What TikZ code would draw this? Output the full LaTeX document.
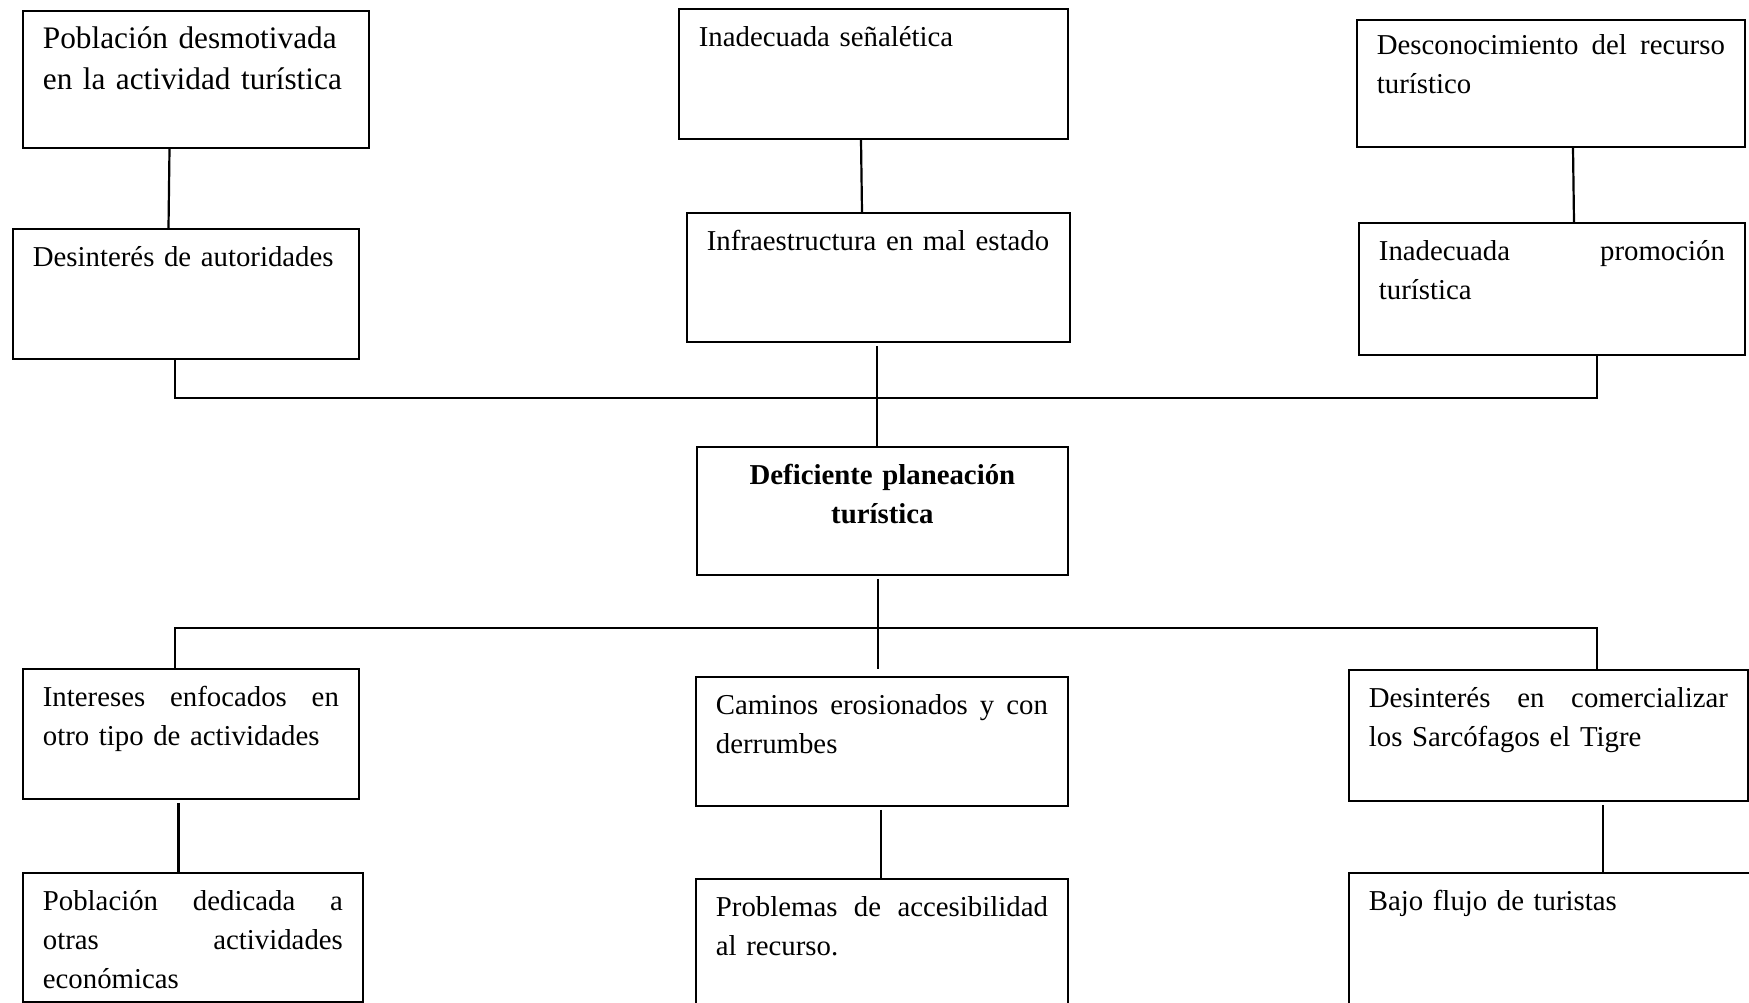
\documentclass[tikz,border=0pt]{standalone}
\usepackage{fontspec}
\setmainfont{Liberation Serif}
\usepackage{tikz}

\tikzset{
  caja/.style={draw, line width=1.8pt, anchor=north west, inner xsep=20pt, inner ysep=0pt,
    text height=38pt, font=\fontsize{28.8}{39}\selectfont},
  linea/.style={line width=2.2pt}
}

\begin{document}
\begin{tikzpicture}[x=1pt, y=-1pt]
\path[use as bounding box, clip] (0,0) rectangle (1749,1003);
% causas
\node[caja, text width=306pt, text depth=99pt, font=\fontsize{31.3}{41}\selectfont] (pobl) at (22,10) {Población desmotivada\\en la actividad turística};
\node[caja, text width=306pt, text depth=92pt] (desint) at (12,228) {Desinterés de autoridades};
\node[caja, text width=349pt, text depth=92pt] (senal) at (678,8) {Inadecuada señalética};
\node[caja, text width=343pt, text depth=91pt] (infra) at (686,212) {\mbox{Infraestructura en mal estado}};
\node[caja, text width=348pt, text height=35pt, text depth=92pt] (descon) at (1356,19) {Desconocimiento\hfill del\hfill recurso\\turístico};
\node[caja, text width=346pt, text depth=94pt] (promo) at (1358,222) {Inadecuada\hfill promoción\\turística};
% problema
\node[caja, text width=331pt, text depth=90pt, align=center, font=\fontsize{28.8}{39}\selectfont\bfseries] (defic) at (696,446) {Deficiente planeación\\turística};
% efectos
\node[caja, text width=296pt, text depth=92pt] (inter) at (22,668) {Intereses\hfill enfocados\hfill en\\otro tipo de actividades};
\node[caja, text width=332pt, text depth=91pt] (camin) at (695,676) {Caminos\hfill erosionados\hfill y\hfill con\\derrumbes};
\node[caja, text width=359pt, text depth=93pt] (comer) at (1348,669) {Desinterés\hfill en\hfill comercializar\\los Sarcófagos el Tigre};
\node[caja, text width=300pt, text depth=91pt] (dedic) at (22,872) {Población\hfill dedicada\hfill a\\otras\hfill actividades\\económicas};
\node[caja, text width=332pt, text depth=112pt] (acces) at (695,878) {Problemas\hfill de\hfill accesibilidad\\al recurso.};
\node[caja, text width=380pt, text depth=112pt] (flujo) at (1348,872) {Bajo flujo de turistas};

\coordinate (busa) at (877,398);
\coordinate (busb) at (878,628);

\draw[linea] ([xshift=147.5pt]pobl.south west) -- ([xshift=156.5pt]desint.north west);
\draw[linea] ([xshift=183pt]senal.south west) -- ([xshift=176pt]infra.north west);
\draw[linea] ([xshift=217pt]descon.south west) -- ([xshift=216pt]promo.north west);
\draw[linea] ([xshift=163pt]desint.south west) |- (busa) -| ([xshift=239pt]promo.south west);
\draw[linea] ([xshift=191pt,yshift=-3pt]infra.south west) -- ([xshift=181pt]defic.north west);
\draw[linea] ([xshift=182pt,yshift=-3pt]defic.south west) -- ([xshift=183pt,yshift=7pt]camin.north west);
\draw[linea] ([xshift=153pt]inter.north west) |- (busb) -| ([xshift=249pt]comer.north west);
\draw[linea] ([xshift=156.5pt,yshift=-3pt]inter.south west) -- ([xshift=156.5pt]dedic.north west);
\draw[linea] ([xshift=186pt,yshift=-3pt]camin.south west) -- ([xshift=186pt]acces.north west);
\draw[linea] ([xshift=255pt,yshift=-3pt]comer.south west) -- ([xshift=255pt]flujo.north west);
\end{tikzpicture}
\end{document}
